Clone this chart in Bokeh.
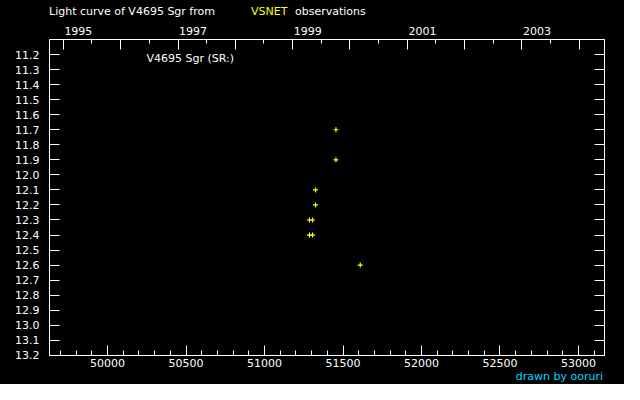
"""Light curve of V4695 Sgr from VSNET observations (MJD vs. magnitude)."""

from datetime import date

from bokeh.embed import file_html
from bokeh.layouts import column
from bokeh.models import (Div, FixedTicker, Label, LinearAxis, PrintfTickFormatter,
                          Range1d, SingleIntervalTicker)
from bokeh.plotting import figure
from bokeh.resources import INLINE

# Observations: modified Julian date and visual magnitude.
mjd = [51286, 51306, 51286, 51306, 51325, 51325, 51455, 51455, 51610]
mag = [12.3, 12.3, 12.4, 12.4, 12.1, 12.2, 11.7, 11.9, 12.6]

# Calendar years on the top axis, and which of them carry a label.
years = list(range(1995, 2005))
year_labels = ["1995", "1997", "1999", "2001", "2003"]

# Magnitude ticks on the left axis.
mag_ticks = [round(11.2 + 0.1 * i, 1) for i in range(21)]

MJD_EPOCH = date(1858, 11, 17)
LABEL_SHIFT = 96  # year labels sit just to the right of their tick


def to_mjd(d):
    return (d - MJD_EPOCH).days


year_mjd = [to_mjd(date(y, 1, 1)) for y in years]
half_mjd = [to_mjd(date(y, 7, 1)) for y in years]
label_mjd = [to_mjd(date(int(s), 1, 1)) + LABEL_SHIFT for s in year_labels]

FONT = "DejaVu Sans"
W = 624
TITLE_H = 20
PLOT_H = 351
CREDIT_H = 13

BOX = "font-family:'DejaVu Sans';font-size:11px;color:white;position:relative;"

title = Div(
    text=(
        f'<div style="{BOX}width:{W}px;height:{TITLE_H}px;line-height:14px">'
        '<span style="position:absolute;left:49px;top:5px">Light curve of V4695 Sgr from</span>'
        '<span style="position:absolute;left:251px;top:5px;color:yellow">VSNET</span>'
        '<span style="position:absolute;left:295px;top:5px">observations</span>'
        '</div>'
    ),
    width=W,
    height=TITLE_H,
    styles={"background-color": "black", "margin": "0", "padding": "0"},
)

credit = Div(
    text=(
        f'<div style="{BOX}width:{W}px;height:{CREDIT_H}px;line-height:11px;color:#00d8ff">'
        '<span style="position:absolute;right:21px;top:0px">drawn by ooruri</span>'
        '</div>'
    ),
    width=W,
    height=CREDIT_H,
    styles={"background-color": "black", "margin": "0", "padding": "0"},
)

p = figure(
    width=W,
    height=PLOT_H,
    x_range=Range1d(49630, 53166),
    y_range=Range1d(13.201, 11.1),
    output_backend="svg",
    toolbar_location=None,
    background_fill_color="black",
    border_fill_color="black",
    outline_line_color="white",
    min_border_left=49,
    min_border_right=20,
    min_border_top=19,
    min_border_bottom=16,
)
p.grid.visible = False


def style_axis(ax, major_in, minor_in=0, labels=True, standoff=3):
    ax.axis_line_color = "white"
    ax.major_tick_line_color = "white"
    ax.minor_tick_line_color = "white"
    ax.major_tick_in = major_in
    ax.major_tick_out = 0
    ax.minor_tick_in = minor_in
    ax.minor_tick_out = 0
    ax.major_label_standoff = standoff
    ax.major_label_text_font = FONT
    if labels:
        ax.major_label_text_color = "white"
        ax.major_label_text_font_size = "11px"
    else:
        ax.major_label_text_color = None
        ax.major_label_text_font_size = "0px"


# bottom: MJD
xax = p.xaxis[0]
xax.ticker = SingleIntervalTicker(interval=500, num_minor_ticks=5)
style_axis(xax, 10, 5, standoff=3)

# left: magnitude
yax = p.yaxis[0]
yax.ticker = FixedTicker(ticks=mag_ticks)
yax.formatter = PrintfTickFormatter(format="%.1f")
style_axis(yax, 10, standoff=10)

# right: ticks only
rax = LinearAxis(ticker=FixedTicker(ticks=mag_ticks))
style_axis(rax, 10, labels=False, standoff=0)
p.add_layout(rax, "right")

# top: year ticks, then year labels above them
tax = LinearAxis(ticker=FixedTicker(ticks=year_mjd, minor_ticks=half_mjd))
style_axis(tax, 10, 4, labels=False, standoff=0)
p.add_layout(tax, "above")

lax = LinearAxis(
    ticker=FixedTicker(ticks=label_mjd),
    major_label_overrides={m: s for m, s in zip(label_mjd, year_labels)},
)
style_axis(lax, 0, labels=True, standoff=5)
lax.axis_line_color = None
lax.major_tick_line_color = None
lax.minor_tick_line_color = None
p.add_layout(lax, "above")

p.scatter(mjd, mag, marker="cross", size=5, line_color="yellow", line_width=1.2)

p.add_layout(Label(
    x=97, y=297, x_units="screen", y_units="screen", text="V4695 Sgr (SR:)",
    text_color="white", text_font=FONT, text_font_size="11px",
    text_align="left", text_baseline="middle",
))

page = column(title, p, credit, spacing=0, styles={"background-color": "black"})

open("out.html", "w").write(file_html(page, INLINE))
